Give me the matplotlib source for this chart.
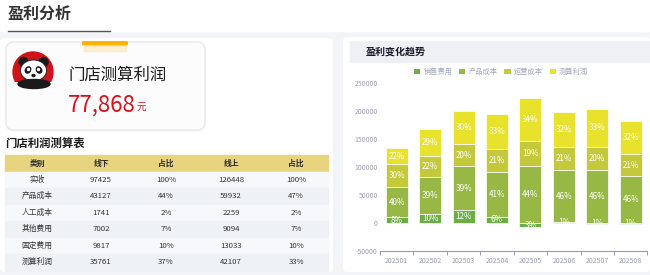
import matplotlib
matplotlib.use('Agg')
import matplotlib.pyplot as plt
from matplotlib.patches import Rectangle, FancyBboxPatch, Circle, Ellipse
import numpy as np

plt.rcParams['font.family'] = ['Noto Sans CJK SC', 'DejaVu Sans']

# chart data
months = ['202501', '202502', '202503', '202504', '202505', '202506', '202507', '202508']
sales = [10100, 15500, 22600, 10700, -7500, 1200, -1800, -2000]
product = [53900, 66300, 78300, 80000, 101400, 92600, 95000, 83100]
operating = [40400, 38100, 39100, 40400, 43900, 40800, 41000, 39100]
profit = [29700, 48100, 59200, 63500, 77800, 62900, 66800, 59300]
sales_pct = [8, 10, 12, 6, 3, 1, 1, 1]
product_pct = [40, 39, 39, 41, 44, 46, 46, 46]
operating_pct = [30, 22, 20, 21, 19, 21, 20, 21]
profit_pct = [22, 29, 30, 33, 34, 32, 33, 32]
series_names = ['销售费用', '产品成本', '运营成本', '测算利润']
series_colors = ['#6cae45', '#97b844', '#c4c93b', '#e9e22c']

# table data
table_header = ['类别', '线下', '占比', '线上', '占比']
categories = ['实收', '产品成本', '人工成本', '其他费用', '固定费用', '测算利润']
offline = [97425, 43127, 1741, 7002, 9817, 35761]
offline_pct = ['100%', '44%', '2%', '7%', '10%', '37%']
online = [126448, 59932, 2259, 9094, 13033, 42107]
online_pct = ['100%', '47%', '2%', '7%', '10%', '33%']

W, H = 650, 275
fig = plt.figure(figsize=(W / 100, H / 100), dpi=100, facecolor='#f3f4f8')

# background canvas in pixel coordinates
bg = fig.add_axes([0, 0, 1, 1])
bg.set_xlim(0, W)
bg.set_ylim(H, 0)
bg.axis('off')

bg.add_patch(Rectangle((0, 0), W, 31, color='white', zorder=0))
bg.text(8, 14, '盈利分析', fontsize=11.5, fontweight='bold', color='#333333', va='center', ha='left')
bg.plot([8, 110], [31, 31], color='#555555', lw=1)

# panels
bg.add_patch(FancyBboxPatch((0, 38), 333, 234, boxstyle='round,pad=0,rounding_size=4',
                            fc='white', ec='none', zorder=0))
bg.add_patch(FancyBboxPatch((343, 37), 307, 235, boxstyle='round,pad=0,rounding_size=4',
                            fc='white', ec='none', zorder=0))
bg.add_patch(Rectangle((350, 41), 300, 21, color='#eef0f4', zorder=1))
bg.text(366, 52, '盈利变化趋势', fontsize=7.2, fontweight='bold', color='#1a1a2a', va='center', ha='left', zorder=2)

# profit card with soft shadow
for i, a in enumerate([0.05, 0.04, 0.03]):
    bg.add_patch(FancyBboxPatch((6 - i, 43 + i), 199 + 2 * i, 88, boxstyle='round,pad=0,rounding_size=8',
                                fc='#e8c8c8', ec='none', alpha=a, zorder=1))
bg.add_patch(FancyBboxPatch((6, 42), 199, 88, boxstyle='round,pad=0,rounding_size=8',
                            fc='#fcfcfc', ec='#e3e3e3', lw=0.8, zorder=2))
bg.add_patch(Rectangle((84, 46), 42, 5, color='#fde7b0', alpha=0.6, zorder=2))
bg.add_patch(FancyBboxPatch((82, 41), 46, 4.5, boxstyle='round,pad=0,rounding_size=1.5',
                            fc='#ffb300', ec='none', zorder=3))

# panda icon
arch = Circle((33, 72), 20, color='#d0121b', zorder=3)
bg.add_patch(arch)
clip = Rectangle((10, 50), 50, 32, transform=bg.transData)
arch.set_clip_path(clip)
bg.add_patch(Circle((23.5, 62), 4.5, color='#1a1a1a', zorder=4))
bg.add_patch(Circle((43.5, 62), 4.5, color='#1a1a1a', zorder=4))
bg.add_patch(Ellipse((33.5, 70.5), 26, 21, fc='white', ec='#1a1a1a', lw=0.6, zorder=5))
bg.add_patch(Ellipse((28, 70), 5, 6.5, angle=30, color='#1a1a1a', zorder=6))
bg.add_patch(Ellipse((39, 70), 5, 6.5, angle=-30, color='#1a1a1a', zorder=6))
bg.add_patch(Circle((28.5, 69.5), 1, color='white', zorder=7))
bg.add_patch(Circle((38.5, 69.5), 1, color='white', zorder=7))
bg.add_patch(Ellipse((33.5, 75.5), 3, 2, color='#1a1a1a', zorder=7))
bg.add_patch(Ellipse((34, 84), 32, 9, color='#1a1a1a', zorder=6))

bg.text(68, 75, '门店测算利润', fontsize=11.8, color='#1c1c1c', va='center', ha='left', zorder=4)
bg.text(68, 105, '77,868', fontsize=16, color='#d8101c', va='center', ha='left', zorder=4)
bg.text(137, 107, '元', fontsize=7, color='#d8101c', va='center', ha='left', zorder=4)

# table
bg.text(5, 143, '门店利润测算表', fontsize=8.2, fontweight='bold', color='#1c1c1c', va='center', ha='left')
col_x = [37, 101, 166, 231, 296]
tbl_left, tbl_right = 5, 328
top, row_h = 155, 16.5
bg.add_patch(Rectangle((tbl_left, top), tbl_right - tbl_left, row_h, color='#e8d47e', zorder=1))
for x, h in zip(col_x, table_header):
    bg.text(x, top + row_h / 2, h, fontsize=5.6, fontweight='bold', color='#2a2a2a',
            ha='center', va='center', zorder=2)
for r in range(len(categories)):
    y0 = top + row_h * (r + 1)
    fc = '#f6f8fc' if r % 2 == 0 else '#eef1f6'
    bg.add_patch(Rectangle((tbl_left, y0), tbl_right - tbl_left, row_h, color=fc, zorder=1))
    cells = [categories[r], str(offline[r]), offline_pct[r], str(online[r]), online_pct[r]]
    for x, c in zip(col_x, cells):
        bg.text(x, y0 + row_h / 2, c, fontsize=5.6, color='#333333', ha='center', va='center', zorder=2)

# stacked bar chart
ax = fig.add_axes([380 / W, 1 - 251 / H, 267.4 / W, (251 - 82.7) / H])
ax.patch.set_alpha(0)
x = np.arange(len(months))
pos = np.zeros(len(months))
neg = np.zeros(len(months))
handles = []
for vals, pcts, name, color in zip([sales, product, operating, profit],
                                   [sales_pct, product_pct, operating_pct, profit_pct],
                                   series_names, series_colors):
    vals = np.array(vals, dtype=float)
    bottom = np.where(vals >= 0, pos, neg)
    bars = ax.bar(x, vals, width=0.66, bottom=bottom, color=color, edgecolor='white',
                  linewidth=0.5, label=name, zorder=2)
    handles.append(bars)
    for xi, b, v, p in zip(x, bottom, vals, pcts):
        ax.text(xi, b + v / 2, f'{p}%', fontsize=5.8, color='white', ha='center', va='center', zorder=3)
    pos = np.where(vals >= 0, pos + vals, pos)
    neg = np.where(vals < 0, neg + vals, neg)

ax.set_xlim(-0.5, len(months) - 0.5)
ax.set_ylim(-50000, 250000)
ax.set_yticks(np.arange(-50000, 250001, 50000))
ax.set_yticklabels([str(v) for v in range(-50000, 250001, 50000)])
ax.set_xticks(x)
ax.set_xticklabels(months)
ax.set_xticks(np.arange(-0.5, len(months), 1), minor=True)
ax.tick_params(axis='x', which='major', length=0, pad=4.5, labelsize=5, labelcolor='#9a9db2')
ax.tick_params(axis='x', which='minor', length=3, color='#9a9db2', width=0.7)
ax.tick_params(axis='y', length=0, pad=1.5, labelsize=5, labelcolor='#9a9db2')
for s in ['top', 'right', 'left']:
    ax.spines[s].set_visible(False)
ax.spines['bottom'].set_color('#9a9db2')
ax.spines['bottom'].set_linewidth(0.8)

legend_handles = [Rectangle((0, 0), 1, 1, fc=c, ec='none') for c in series_colors]
fig.legend(handles=legend_handles, labels=series_names, loc='center', ncol=4,
           bbox_to_anchor=(501 / W, 1 - 72 / H), frameon=False, fontsize=5.2,
           handlelength=0.85, handleheight=0.85, handletextpad=0.45, columnspacing=0.95,
           labelcolor='#a3a6b8')

fig.savefig('out.png', dpi=100, facecolor=fig.get_facecolor())
